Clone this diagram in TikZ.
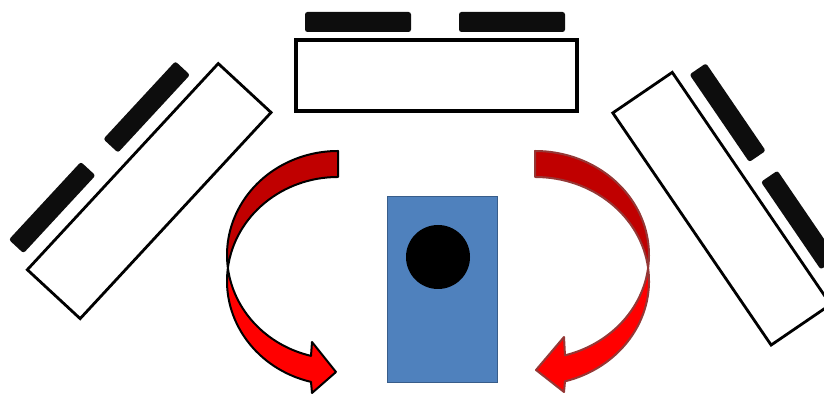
\documentclass[tikz,border=0pt]{standalone}
\begin{document}
\begin{tikzpicture}[x=1pt,y=1pt]
\definecolor{darkred}{HTML}{C00000}
\definecolor{brightred}{HTML}{FF0000}
\definecolor{arrowedge}{HTML}{953735}
\definecolor{boxblue}{HTML}{4F81BD}
\definecolor{boxedge}{HTML}{385D8A}
\definecolor{slabblack}{HTML}{0D0D0D}
\tikzset{
  panel/.style={draw=black, line width=2.8pt, fill=white, inner sep=0pt,
    minimum width=281pt, minimum height=72pt},
  slab/.style={fill=slabblack, rounded corners=2.5pt, inner sep=0pt,
    minimum width=106pt, minimum height=20pt},
  band/.style={line width=2pt, line join=round},
}
\useasboundingbox (0,0) rectangle (824,395);
\clip (0,0) rectangle (824,395);

% top panel with two slabs
\node[panel, line width=3.2pt, minimum height=71pt] (toppanel) at (436.5,319.5) {};
\node[slab] (topslabA) at (358,373) {};
\node[slab] (topslabB) at (512,373) {};

% left tilted panel
\begin{scope}[shift={(149.2,203.9)}, rotate=47.2, transform shape]
  \node[panel] (leftpanel) at (0,0) {};
  \node[slab] (leftslabA) at (-78,60) {};
  \node[slab] (leftslabB) at (60,59) {};
\end{scope}

% right tilted panel
\begin{scope}[shift={(721.7,186.3)}, rotate=-55.7, transform shape]
  \node[panel] (rightpanel) at (0,0) {};
  \node[slab] (rightslabA) at (-76,59) {};
  \node[slab] (rightslabB) at (53,57.5) {};
\end{scope}

% blue figure with head
\node[draw=boxedge, fill=boxblue, line width=1.8pt, inner sep=0pt,
  minimum width=110pt, minimum height=186pt] (figure) at (442.5,105.5) {};
\node[circle, fill=black, inner sep=0pt, minimum size=64pt] (head) at (438,138) {};

% left curved arrow
\draw[band, draw=black, fill=darkred]
  (338,244) arc[start angle=90, end angle=187.18, x radius=111, y radius=104]
  arc[start angle=172.82, end angle=90, x radius=111, y radius=104] -- cycle;
\draw[band, draw=black, fill=brightred]
  (227.87,127) arc[start angle=187.18, end angle=255.92, x radius=111, y radius=104]
  -- (312,53) -- (336,23) -- (312,2) -- (311.0,13.1)
  arc[start angle=255.92, end angle=172.82, x radius=111, y radius=104] -- cycle;

% right curved arrow
\draw[band, draw=arrowedge, fill=darkred]
  (535,244) arc[start angle=90, end angle=-7.18, x radius=114, y radius=104]
  arc[start angle=7.18, end angle=90, x radius=114, y radius=104] -- cycle;
\draw[band, draw=arrowedge, fill=brightred]
  (648.1,127) arc[start angle=-7.18, end angle=-74.75, x radius=114, y radius=104]
  -- (564,58) -- (536,25) -- (564,3) -- (565.0,13.66)
  arc[start angle=-74.75, end angle=7.18, x radius=114, y radius=104] -- cycle;
\end{tikzpicture}
\end{document}
